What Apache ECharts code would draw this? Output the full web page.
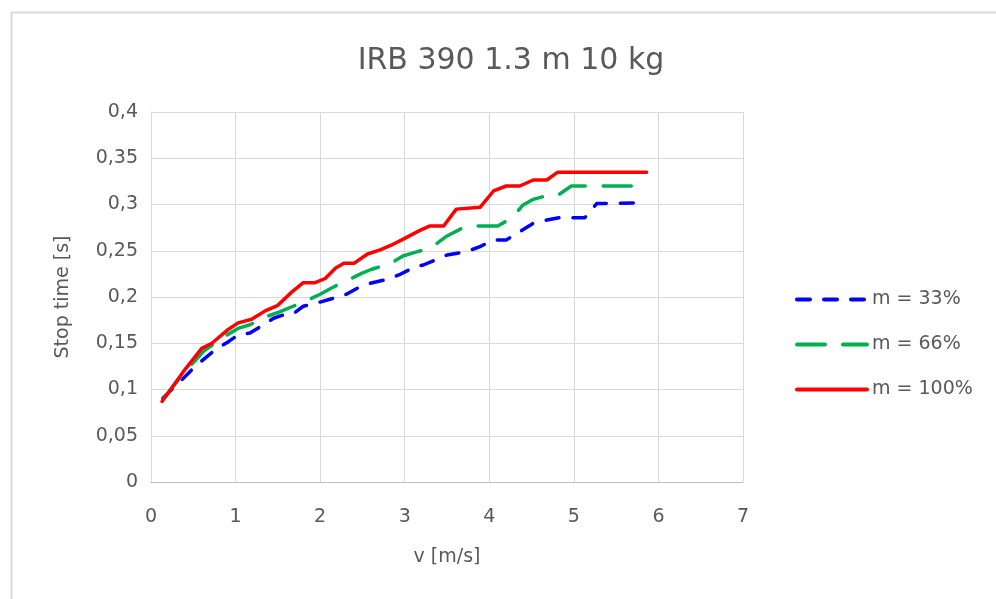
<!DOCTYPE html>
<html>
<head>
<meta charset="utf-8">
<script src="https://cdn.jsdelivr.net/npm/echarts@6/dist/echarts.min.js"></script>
<style>html,body{margin:0;padding:0;background:#fff;}#c{width:996px;height:599px;}</style>
</head>
<body>
<div id="c"></div>
<script>
const titleText = 'IRB 390 1.3 m 10 kg';
const xName = 'v [m/s]';
const yName = 'Stop time [s]';
const seriesNames = ['m = 33%', 'm = 66%', 'm = 100%'];

const v33 = [0.14,0.38,0.50,0.64,0.76,0.92,1.03,1.17,1.33,1.45,1.56,1.66,1.80,1.94,2.15,2.31,2.47,2.59,2.79,2.93,3.12,3.22,3.50,3.73,3.89,4.05,4.20,4.36,4.52,4.68,4.83,5.13,5.27,5.86];
const t33 = [0.0905,0.112,0.123,0.134,0.143,0.152,0.159,0.161,0.170,0.177,0.1805,0.1805,0.190,0.193,0.1985,0.203,0.211,0.2148,0.219,0.2238,0.2324,0.2346,0.2454,0.249,0.2544,0.2616,0.2616,0.2706,0.2797,0.2832,0.2857,0.2857,0.301,0.302];

const v66 = [0.14,0.38,0.63,0.88,1.03,1.17,1.37,1.52,1.68,1.84,2.00,2.14,2.33,2.49,2.61,2.83,2.98,3.12,3.30,3.50,3.73,4.10,4.26,4.40,4.52,4.70,4.81,4.97,5.86];
const t66 = [0.089,0.117,0.142,0.158,0.166,0.170,0.179,0.184,0.190,0.196,0.203,0.210,0.2184,0.2256,0.230,0.236,0.2443,0.2483,0.2526,0.266,0.2768,0.2768,0.285,0.2995,0.3056,0.310,0.310,0.320,0.320];

const v100 = [0.13,0.38,0.60,0.72,0.90,1.03,1.19,1.35,1.50,1.66,1.80,1.94,2.06,2.18,2.28,2.40,2.56,2.71,2.84,3.00,3.18,3.30,3.46,3.61,3.89,4.05,4.20,4.36,4.52,4.68,4.81,5.86];
const t100 = [0.087,0.119,0.1445,0.150,0.164,0.172,0.176,0.185,0.191,0.205,0.2155,0.2155,0.220,0.231,0.2364,0.2364,0.2465,0.251,0.256,0.2634,0.272,0.2768,0.2768,0.295,0.297,0.3146,0.320,0.320,0.3265,0.3265,0.335,0.335];

const zip = (a, b) => a.map((x, i) => [x, b[i]]);
const FONT = '"DejaVu Sans", sans-serif';
const TXT = '#595959';
const FS = 19;

const chart = echarts.init(document.getElementById('c'), null, {renderer: 'canvas'});
chart.setOption({
  animation: false,
  backgroundColor: '#ffffff',
  graphic: [{
    type: 'rect', left: 9, top: 10, z: -1, silent: true,
    shape: {width: 1000, height: 600},
    style: {fill: 'none', stroke: '#d9d9d9', lineWidth: 2}
  }],
  title: {
    text: titleText, left: 506, top: 41, textAlign: 'center',
    textStyle: {fontFamily: FONT, fontSize: 30, fontWeight: 'normal', color: TXT}
  },
  grid: {left: 151, right: 253, top: 112, bottom: 117, containLabel: false},
  legend: {
    orient: 'vertical', left: 790, top: 285,
    itemWidth: 70, itemHeight: 20, itemGap: 26,
    itemStyle: {opacity: 0},
    lineStyle: {width: 4, cap: 'round'},
    textStyle: {fontFamily: FONT, fontSize: FS, color: TXT},
    data: seriesNames
  },
  xAxis: {
    type: 'value', min: 0, max: 7, interval: 1,
    name: xName, nameLocation: 'middle', nameGap: 66,
    nameTextStyle: {fontFamily: FONT, fontSize: FS, color: TXT},
    axisLine: {show: true, lineStyle: {color: '#bfbfbf', width: 1}},
    axisTick: {show: false},
    axisLabel: {fontFamily: FONT, fontSize: FS, color: TXT, margin: 26},
    splitLine: {show: true, lineStyle: {color: '#d9d9d9', width: 1}}
  },
  yAxis: {
    type: 'value', min: 0, max: 0.4, interval: 0.05,
    name: yName, nameLocation: 'middle', nameGap: 78,
    nameTextStyle: {fontFamily: FONT, fontSize: FS, color: TXT},
    axisLine: {show: true, lineStyle: {color: '#d9d9d9', width: 1}},
    axisTick: {show: false},
    axisLabel: {fontFamily: FONT, fontSize: FS, color: TXT, margin: 13,
      formatter: v => String(Math.round(v * 100) / 100).replace('.', ',')},
    splitLine: {show: true, lineStyle: {color: '#d9d9d9', width: 1}}
  },
  series: [
    {name: seriesNames[0], type: 'line', data: zip(v33, t33), symbol: 'none', z: 3,
     itemStyle: {color: '#0000ff'},
     lineStyle: {color: '#0000ff', width: 3.5, type: [13, 14], cap: 'round', join: 'round'}},
    {name: seriesNames[1], type: 'line', data: zip(v66, t66), symbol: 'none', z: 4,
     itemStyle: {color: '#00b050'},
     lineStyle: {color: '#00b050', width: 3.5, type: [28, 18], cap: 'round', join: 'round'}},
    {name: seriesNames[2], type: 'line', data: zip(v100, t100), symbol: 'none', z: 5,
     itemStyle: {color: '#ff0000'},
     lineStyle: {color: '#ff0000', width: 3.5, type: 'solid', cap: 'round', join: 'round'}}
  ]
});
</script>
</body>
</html>
